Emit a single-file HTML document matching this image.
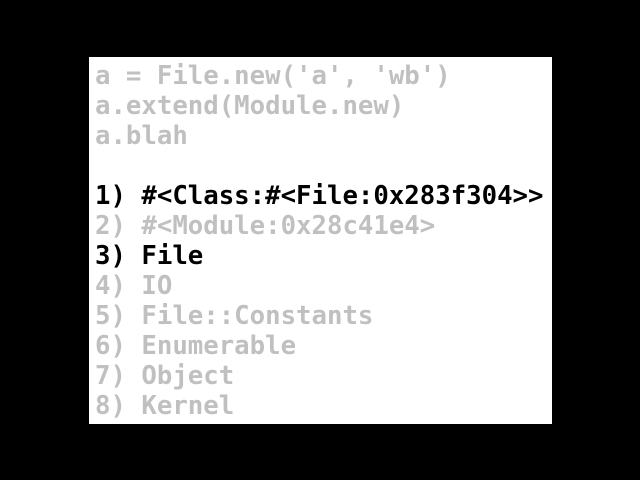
<!DOCTYPE html>
<html><head><meta charset="utf-8"><style>
html,body{margin:0;padding:0;background:#000;width:640px;height:480px;overflow:hidden}
.box{position:absolute;left:89px;top:57px;width:463px;height:367px;background:#fff}
pre{position:absolute;left:95px;top:61px;margin:0;font-family:"DejaVu Sans Mono","Liberation Mono",monospace;font-weight:bold;font-size:25.7px;line-height:30px;color:#c0c0c0}
.k{color:#000}
</style></head><body>
<div class="box"></div>
<pre>a = File.new('a', 'wb')
a.extend(Module.new)
a.blah

<span class="k">1) #&lt;Class:#&lt;File:0x283f304&gt;&gt;</span>
2) #&lt;Module:0x28c41e4&gt;
<span class="k">3) File</span>
4) IO
5) File::Constants
6) Enumerable
7) Object
8) Kernel</pre>
</body></html>
